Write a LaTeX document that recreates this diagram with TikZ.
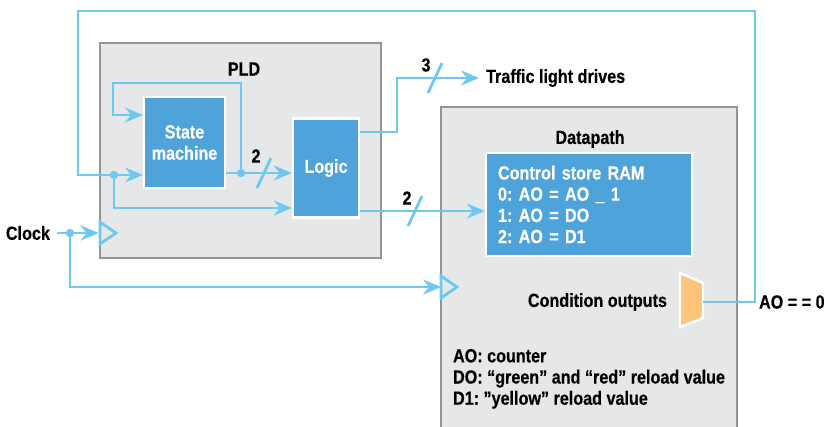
\documentclass[tikz,border=0pt]{standalone}
\usepackage{fontspec}
\setmainfont[FakeStretch=0.85, FakeBold=0.4]{Liberation Sans}
\usetikzlibrary{arrows.meta,calc}

\definecolor{wirecol}{RGB}{110,200,240}
\definecolor{blockblue}{RGB}{78,163,218}
\definecolor{panelgray}{RGB}{230,231,232}
\definecolor{panelline}{RGB}{147,149,152}
\definecolor{muxorange}{RGB}{253,196,122}

\begin{document}
\frenchspacing
\begin{tikzpicture}[x=0.5pt, y=-0.5pt,
  font=\fontsize{9.5}{10.6}\selectfont\bfseries,
  >={Stealth[length=9pt, width=7.5pt, inset=3pt]},
  wire/.style={draw=wirecol, line width=1.4pt},
  panel/.style={draw=panelline, fill=panelgray, line width=1.4pt, inner sep=0pt},
  block/.style={draw=white, fill=blockblue, text=white, line width=1.2pt, inner sep=0pt},
  dot/.style={circle, fill=wirecol, inner sep=0pt, minimum size=4.2pt}]

  \useasboundingbox (0,0) rectangle (828,427);

  % PLD frame
  \node[panel, minimum width=140.5pt, minimum height=107.5pt] (pld) at (240.5,150.5) {};
  \node (pldlabel) at (244,69) {PLD};

  % Datapath frame (runs off the bottom)
  \fill[panelgray] (441,107) rectangle (737,430);
  \draw[panelline, line width=1.4pt] (441,430) |- (737,107) -- (737,430);
  \node (dplabel) at (590,139) {Datapath};

  % Blocks
  \node[block, minimum width=40.5pt, minimum height=45.5pt, align=center] (sm) at (184.5,142.5) {State\\machine};
  \node[block, minimum width=33pt, minimum height=49.5pt] (logic) at (326,168) {Logic};
  \node[block, minimum width=103pt, minimum height=51.5pt, text width=91pt, inner xsep=6pt, align=left] (ram) at (589,204.5)
    {Control store RAM\\0: AO = AO \_ 1\\1: AO = DO\\2: AO = D1};

  % Condition mux
  \fill[muxorange, draw=white, line width=1.2pt] (680,273) -- (703,283) -- (703,318) -- (680,327) -- cycle;
  \coordinate (muxout) at (703,302);

  % Clock inputs
  \draw[wire, fill=panelgray] (100,222) -- (116,233) -- (100,244) -- cycle;
  \draw[wire, fill=panelgray] (441,276) -- (457,287) -- (441,298) -- cycle;

  % Labels
  \node[anchor=east] (clock) at (57,233) {Clock};
  \node[anchor=west] (traffic) at (479,78) {Traffic light drives};
  \node[anchor=east] (cond) at (674,302) {Condition outputs};
  \node[anchor=west] (azero) at (752,302) {AO = = 0};
  \node[anchor=north west, align=left] (notes) at (446,342)
    {AO: counter\\DO: “green” and “red” reload value\\D1: ”yellow” reload value};

  % Bend points
  \coordinate (topright) at (755,11);
  \coordinate (topleft) at (78,11);
  \coordinate (smclk) at (143,175);
  \coordinate (smfb) at (143,115);
  \coordinate (fbcorner) at (113,83);
  \coordinate (trcorner) at (397,78);
  \coordinate (dpclk) at (441,287);

  % Clock wiring
  \draw[wire, ->] (clock.east) -- (pld.west |- clock.east);
  \node[dot] (clkdot) at (70,233) {};
  \draw[wire, ->] (clkdot.center) |- (dpclk);

  % Condition feedback to the state machine
  \draw[wire, ->] (muxout) -| (topright) -- (topleft) |- (smclk);
  \node[dot] (fbdot) at (114,175) {};
  \draw[wire, ->] (fbdot.center) |- (logic.west |- 0,208);

  % State machine to logic, with its own feedback
  \draw[wire, ->] (sm.east |- 0,173) -- (logic.west |- 0,173);
  \node[dot] (smdot) at (241,173) {};
  \draw[wire, ->] (smdot.center) |- (fbcorner) |- (smfb);
  \draw[wire] (257,188) -- (271,158);
  \node (smbus) at (256,156) {2};

  % Logic outputs
  \draw[wire, ->] (logic.east |- 0,132) -| (trcorner) -- (traffic.west);
  \draw[wire] (428,93) -- (442,63);
  \node (trbus) at (426,65) {3};
  \draw[wire, ->] (logic.east |- 0,211) -- (ram.west |- 0,211);
  \draw[wire] (408,226) -- (422,196);
  \node (rambus) at (407,198) {2};

  % Condition output
  \draw[wire] (muxout) -- (topright |- muxout);

\end{tikzpicture}
\end{document}
